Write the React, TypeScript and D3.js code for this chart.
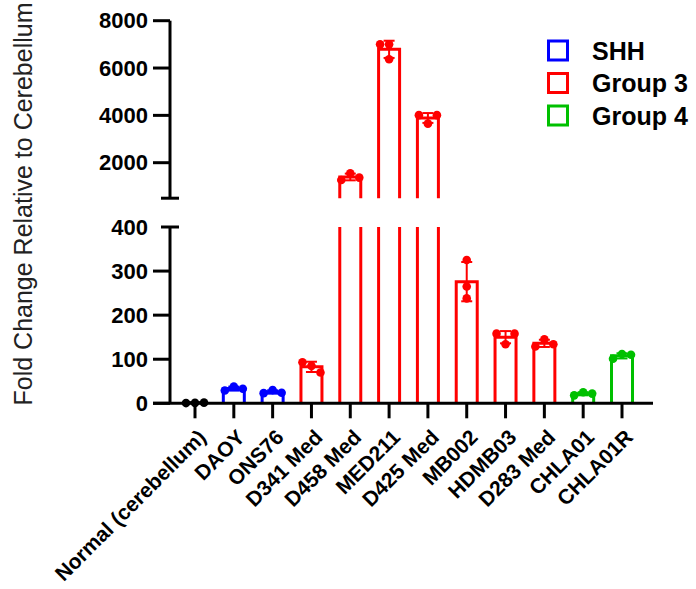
import * as d3 from "d3";

// cell lines, in plotting order
const categories = [
  "Normal (cerebellum)",
  "DAOY",
  "ONS76",
  "D341 Med",
  "D458 Med",
  "MED211",
  "D425 Med",
  "MB002",
  "HDMB03",
  "D283 Med",
  "CHLA01",
  "CHLA01R",
];
const subgroup = [
  "Normal",
  "SHH",
  "SHH",
  "Group 3",
  "Group 3",
  "Group 3",
  "Group 3",
  "Group 3",
  "Group 3",
  "Group 3",
  "Group 4",
  "Group 4",
];
// three replicates per cell line (fold change vs cerebellum)
const replicates = [
  [1, 0.5, 1.5],
  [38, 29, 33],
  [30, 23, 24],
  [85, 93, 70],
  [1550, 1270, 1370],
  [6370, 7000, 7000],
  [3650, 4010, 4010],
  [325, 265, 238],
  [134, 158, 158],
  [145, 129, 134],
  [25, 18, 22],
  [112, 101, 110],
];
const legendGroups = ["SHH", "Group 3", "Group 4"];
const lowerTicks = [0, 100, 200, 300, 400];
const upperTicks = [2000, 4000, 6000, 8000];

const colors = {
  Normal: "#000000",
  SHH: "#0000ff",
  "Group 3": "#ff0000",
  "Group 4": "#00c000",
};

const W = 696;
const H = 589;
const axisX = 170;
const lowerMax = 400;
const font = "'Liberation Sans', Arial, Helvetica, sans-serif";

export default function App() {
  const x = d3.scalePoint().domain(categories).range([195, 622]);
  const yLow = d3.scaleLinear().domain([0, lowerMax]).range([403.3, 227]);
  const yHigh = d3.scaleLinear().domain([500, 8000]).range([198.2, 20.7]);
  const yOf = (v) => (v > lowerMax ? yHigh(v) : yLow(v));

  const halfBar = 10.5;
  const r = 4.3;
  const slotStep = 9;

  // dodge replicate points sideways when they sit too close vertically
  const placePoints = (vals) => {
    const placed = [];
    const slots = [0, -1, 1, -2, 2];
    vals.forEach((v) => {
      const py = yOf(v);
      const slot = slots.find(
        (s) => !placed.some((p) => p.slot === s && Math.abs(p.py - py) < 11)
      );
      placed.push({ v, py, slot });
    });
    return placed;
  };

  const stats = categories.map((c, i) => {
    const vals = replicates[i];
    return {
      c,
      color: colors[subgroup[i]],
      mean: d3.mean(vals),
      sd: d3.deviation(vals),
      pts: placePoints(vals),
    };
  });

  return (
    <svg
      width={W}
      height={H}
      style={{ position: "absolute", left: 0, top: 0, background: "#fff" }}
      fontFamily={font}
    >
      {/* bars */}
      {stats.map((d) => {
        const cx = x(d.c);
        const x0 = cx - halfBar;
        const x1 = cx + halfBar;
        if (d.mean > lowerMax) {
          return (
            <g key={d.c} stroke={d.color} strokeWidth={3} fill="none">
              <path d={`M${x0},${yHigh(500)}V${yHigh(d.mean)}H${x1}V${yHigh(500)}`} />
              <line x1={x0} x2={x0} y1={yLow(lowerMax)} y2={yLow(0)} />
              <line x1={x1} x2={x1} y1={yLow(lowerMax)} y2={yLow(0)} />
            </g>
          );
        }
        return (
          <path
            key={d.c}
            d={`M${x0},${yLow(0)}V${yLow(d.mean)}H${x1}V${yLow(0)}`}
            stroke={d.color}
            strokeWidth={3}
            fill="none"
          />
        );
      })}

      {/* error bars: mean +/- SD */}
      {stats.map((d) => {
        const cx = x(d.c);
        const yt = yOf(d.mean + d.sd);
        const yb = yOf(d.mean - d.sd);
        return (
          <g key={d.c} stroke={d.color} strokeWidth={2}>
            <line x1={cx} x2={cx} y1={yt} y2={yb} />
            <line x1={cx - 5.5} x2={cx + 5.5} y1={yt} y2={yt} />
            <line x1={cx - 5.5} x2={cx + 5.5} y1={yb} y2={yb} />
          </g>
        );
      })}

      {/* replicate points */}
      {stats.map((d) => (
        <g key={d.c} fill={d.color}>
          {d.pts.map((p, j) => (
            <circle key={j} cx={x(d.c) + p.slot * slotStep} cy={p.py} r={r} />
          ))}
        </g>
      ))}

      {/* y axis, upper segment */}
      <g stroke="#000" strokeWidth={3}>
        <line x1={axisX} x2={axisX} y1={yHigh(8000)} y2={yHigh(500)} />
        <line x1={axisX - 9} x2={axisX + 9} y1={yHigh(500)} y2={yHigh(500)} />
        {upperTicks.map((t) => (
          <line key={t} x1={axisX - 17} x2={axisX} y1={yHigh(t)} y2={yHigh(t)} />
        ))}
      </g>
      {upperTicks.map((t) => (
        <text
          key={t}
          x={148}
          y={yHigh(t)}
          textAnchor="end"
          dominantBaseline="central"
          fontSize={22}
          fontWeight="bold"
        >
          {t}
        </text>
      ))}

      {/* y axis, lower segment */}
      <g stroke="#000" strokeWidth={3}>
        <line x1={axisX} x2={axisX} y1={yLow(lowerMax)} y2={yLow(0)} />
        {lowerTicks.map((t) =>
          t === lowerMax ? (
            <line key={t} x1={axisX - 9} x2={axisX + 9} y1={yLow(t)} y2={yLow(t)} />
          ) : (
            <line key={t} x1={axisX - 17} x2={axisX} y1={yLow(t)} y2={yLow(t)} />
          )
        )}
      </g>
      {lowerTicks.map((t) => (
        <text
          key={t}
          x={148}
          y={yLow(t)}
          textAnchor="end"
          dominantBaseline="central"
          fontSize={22}
          fontWeight="bold"
        >
          {t}
        </text>
      ))}

      {/* x axis */}
      <g stroke="#000" strokeWidth={3}>
        <line x1={153} x2={653} y1={yLow(0)} y2={yLow(0)} />
        {categories.map((c) => (
          <line key={c} x1={x(c)} x2={x(c)} y1={yLow(0)} y2={yLow(0) + 15} />
        ))}
      </g>
      {categories.map((c) => (
        <text
          key={c}
          transform={`translate(${x(c) + 7},${yLow(0) + 30}) rotate(-45)`}
          textAnchor="end"
          dominantBaseline="central"
          fontSize={21}
          fontWeight="bold"
        >
          {c}
        </text>
      ))}

      {/* y axis title */}
      <text
        transform={`translate(23,204) rotate(-90)`}
        textAnchor="middle"
        dominantBaseline="central"
        fontSize={25}
        fill="#222"
      >
        Fold Change Relative to Cerebellum
      </text>

      {/* legend */}
      {legendGroups.map((g, i) => (
        <g key={g} transform={`translate(0,${50.5 + i * 32.5})`}>
          <rect
            x={548.5}
            y={-9.5}
            width={19}
            height={19}
            fill="none"
            stroke={colors[g]}
            strokeWidth={3}
          />
          <text x={592} y={0} dominantBaseline="central" fontSize={25} fontWeight="bold">
            {g}
          </text>
        </g>
      ))}
    </svg>
  );
}
